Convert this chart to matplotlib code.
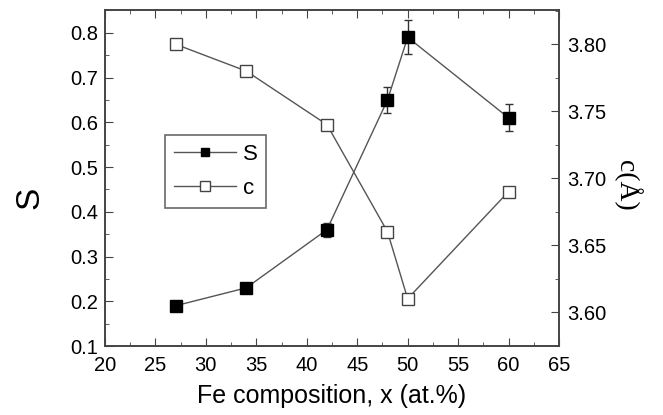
import matplotlib
matplotlib.use("Agg")
import matplotlib.pyplot as plt
from matplotlib.ticker import MultipleLocator
from matplotlib.lines import Line2D

plt.rcParams['font.family'] = ['Liberation Sans', 'DejaVu Sans']

fe = [27, 34, 42, 48, 50, 60]
S_vals = [0.19, 0.23, 0.36, 0.65, 0.79, 0.61]
S_err = [0.006, 0.006, 0.016, 0.03, 0.038, 0.03]
c_vals = [3.80, 3.78, 3.74, 3.66, 3.61, 3.69]

line_col = '#555555'

W, H = 663, 415
fig = plt.figure(figsize=(W/100, H/100), dpi=100)
ax = fig.add_axes([105/W, 1-346/H, 454/W, 336/H])
ax2 = ax.twinx()

ax.errorbar(fe, S_vals, yerr=S_err, color=line_col, lw=1.0, marker='s',
            ms=8, mfc='black', mec='black', ecolor='#333333', elinewidth=1.0,
            capsize=3, capthick=1.0)
ax2.plot(fe, c_vals, color=line_col, lw=1.0, marker='s', ms=8.5,
         mfc='white', mec='#444444', mew=1.0)

ax.set_xlim(20, 65)
ax.set_ylim(0.1, 0.851)
ax2.set_ylim(3.5747, 3.8256)

ax.xaxis.set_major_locator(MultipleLocator(5))
ax.xaxis.set_minor_locator(MultipleLocator(2.5))
ax.yaxis.set_minor_locator(MultipleLocator(0.05))
ax2.yaxis.set_minor_locator(MultipleLocator(0.025))
ax.set_yticks([0.1, 0.2, 0.3, 0.4, 0.5, 0.6, 0.7, 0.8])
ax.set_yticklabels(['0.1', '0.2', '0.3', '0.4', '0.5', '0.6', '0.7', '0.8'])
ax2.set_yticks([3.60, 3.65, 3.70, 3.75, 3.80])
ax2.set_yticklabels(['3.60', '3.65', '3.70', '3.75', '3.80'])

for a in (ax, ax2):
    for s in a.spines.values():
        s.set_color('#444444')
        s.set_linewidth(1.2)

ax.tick_params(axis='x', which='both', direction='in', top=True, labelsize=14.5,
               color='#444444', pad=7)
ax.tick_params(axis='x', which='major', length=6)
ax.tick_params(axis='x', which='minor', length=3)
ax.tick_params(axis='y', which='both', direction='in', labelsize=14.5, color='#444444', pad=5)
ax.tick_params(axis='y', which='major', length=6)
ax.tick_params(axis='y', which='minor', length=3)
ax2.tick_params(axis='y', which='both', direction='in', labelsize=14.5, color='#444444', pad=6)
ax2.tick_params(axis='y', which='major', length=6)
ax2.tick_params(axis='y', which='minor', length=3)

ax.set_xlabel('Fe composition, x (at.%)', fontsize=18, labelpad=7)
fig.text(30/W, 1-198/H, 'S', fontsize=24, rotation=90, ha='center', va='center')
fig.text(627/W, 1-185/H, 'c(Å)', fontsize=20, rotation=270, ha='center', va='center',
         family=['Liberation Serif', 'DejaVu Serif'])

hS = Line2D([], [], color=line_col, lw=1.0, marker='s', ms=6, mfc='black', mec='black')
hc = Line2D([], [], color=line_col, lw=1.0, marker='s', ms=7, mfc='white',
            mec='#444444', mew=1.0)
leg = ax.legend([hS, hc], ['S', 'c'], loc='upper left',
                bbox_to_anchor=(0.132, 0.628), borderaxespad=0, fontsize=16,
                numpoints=1, frameon=True, fancybox=False, handlelength=2.8,
                handletextpad=0.3, borderpad=0.4, labelspacing=0.6)
leg.get_frame().set_edgecolor('#444444')
leg.get_frame().set_linewidth(1.2)

fig.savefig('out.png', dpi=100)
